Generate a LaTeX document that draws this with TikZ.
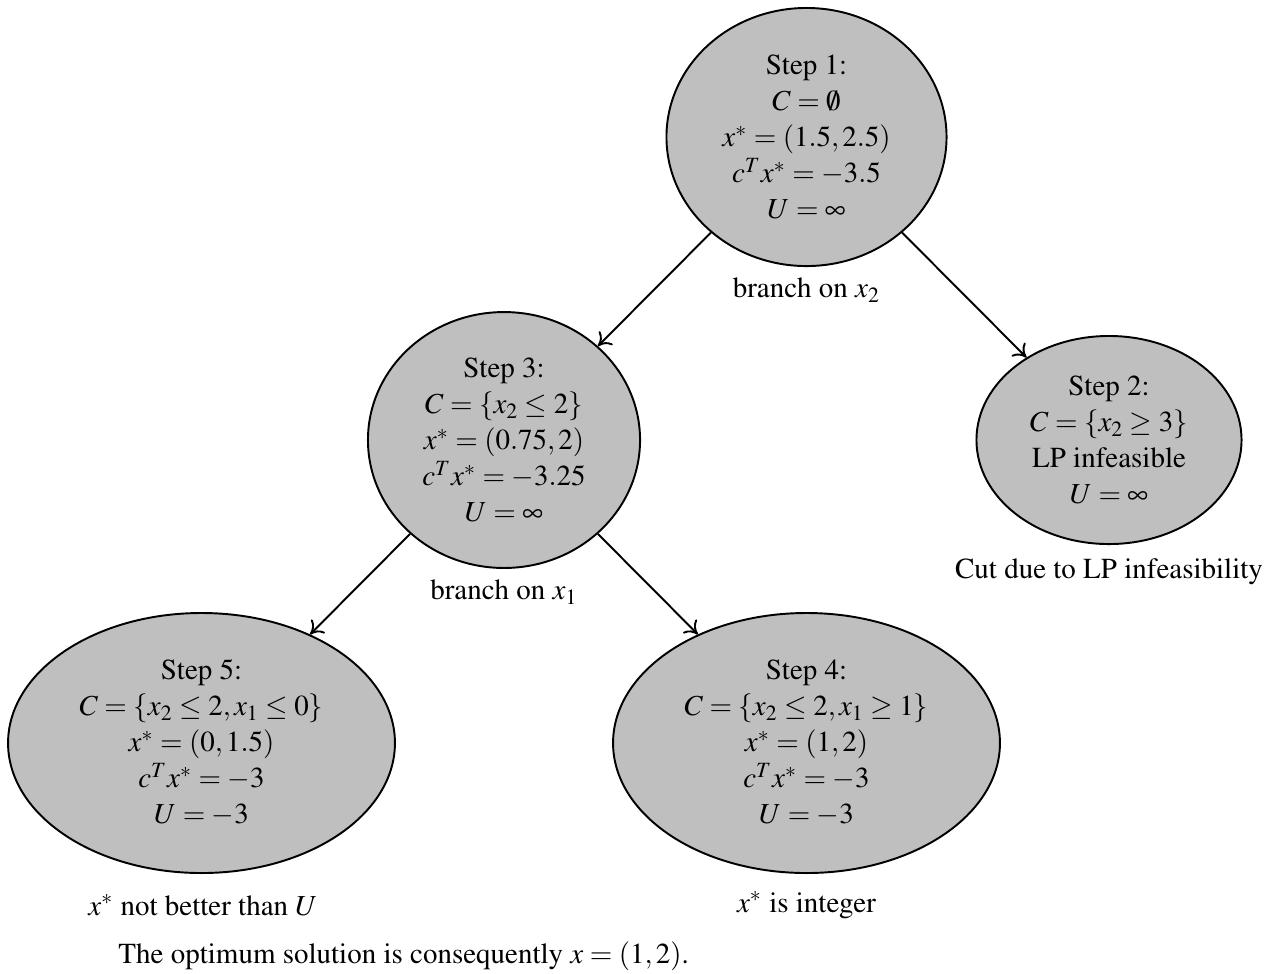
\documentclass[12pt,tikz,border=0pt]{standalone}
\usepackage[T1]{fontenc}
\usepackage{mathptmx}
\usetikzlibrary{shapes.geometric,arrows.meta}
\begin{document}
\begin{tikzpicture}[x=0.4138pt,y=-0.4138pt,
  every node/.style={font=\fontsize{12}{14.9}\selectfont},
  stepnode/.style={ellipse,draw=black,fill=black!25,line width=0.8pt,align=center,inner sep=0pt},
  arr/.style={-{Computer Modern Rightarrow[length=5pt,width=8pt]},line width=0.8pt},
  lbl/.style={inner sep=0pt}]
\useasboundingbox (0,0) rectangle (1268,973);
\node[stepnode,minimum width=115.9pt,minimum height=106.8pt] (s1) at (806.5,137)
  {Step 1:\\ $C=\emptyset$\\ $x^*=(1.5,2.5)$\\ $c^Tx^*=-3.5$\\ $U=\infty$};
\node[stepnode,minimum width=112.6pt,minimum height=105.9pt] (s3) at (504,440)
  {Step 3:\\ $C=\{x_2\leq 2\}$\\ $x^*=(0.75,2)$\\ $c^Tx^*=-3.25$\\ $U=\infty$};
\node[stepnode,minimum width=109.7pt,minimum height=86.1pt] (s2) at (1109,440)
  {Step 2:\\ $C=\{x_2\geq 3\}$\\ LP infeasible\\ $U=\infty$};
\node[stepnode,minimum width=160.1pt,minimum height=107.6pt] (s5) at (201.5,743)
  {Step 5:\\ $C=\{x_2\leq 2,x_1\leq 0\}$\\ $x^*=(0,1.5)$\\ $c^Tx^*=-3$\\ $U=-3$};
\node[stepnode,minimum width=160.1pt,minimum height=107.6pt] (s4) at (806.5,743)
  {Step 4:\\ $C=\{x_2\leq 2,x_1\geq 1\}$\\ $x^*=(1,2)$\\ $c^Tx^*=-3$\\ $U=-3$};
\draw[arr] (s1.225) -- (s3.45);
\draw[arr] (s1.315) -- (s2.135);
\draw[arr] (s3.225) -- (s5.45);
\draw[arr] (s3.315) -- (s4.135);
\node[lbl] (b2) at (806.5,290) {branch on $x_2$};
\node[lbl] (b1) at (504,592) {branch on $x_1$};
\node[lbl] (cut) at (1109,572) {Cut due to LP infeasibility};
\node[lbl] (nb) at (203,905) {$x^*$ not better than $U$};
\node[lbl] (ii) at (806.5,905) {$x^*$ is integer};
\node[lbl,anchor=west] (opt) at (118,956) {The optimum solution is consequently $x=(1,2)$.};
\end{tikzpicture}
\end{document}
